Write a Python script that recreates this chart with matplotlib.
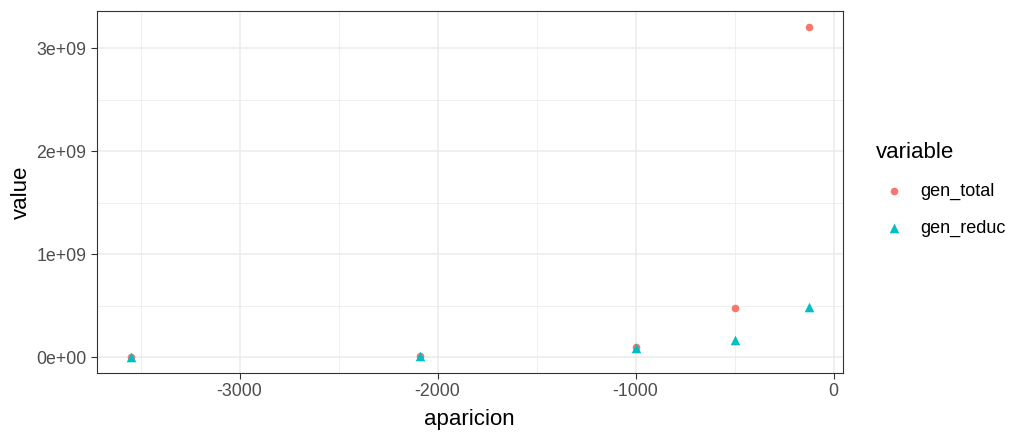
import numpy as np
import matplotlib.pyplot as plt
from matplotlib.ticker import MultipleLocator, FuncFormatter

aparicion = [-3550, -2090, -1000, -500, -125]
gen_total = [0.005e9, 0.01e9, 0.10e9, 0.48e9, 3.2e9]
gen_reduc = [0.005e9, 0.01e9, 0.084e9, 0.168e9, 0.485e9]
series = ['gen_total', 'gen_reduc']
colors = ['#F8766D', '#00BFC4']
markers = ['o', '^']

plt.rcParams['font.family'] = ['Liberation Sans', 'DejaVu Sans']

fig = plt.figure(figsize=(10.24, 4.44), dpi=100)
ax = fig.add_axes([96.7/1024, 1-373/444, (842.7-96.7)/1024, (373-11)/444])

for name, vals, c, m in zip(series, [gen_total, gen_reduc], colors, markers):
    ax.scatter(aparicion, vals, s=30 if m == 'o' else 48, color=c, marker=m,
               linewidths=0, label=name, zorder=3)

# ggplot-like expansion of 5%
allv = gen_total + gen_reduc
xr = max(aparicion) - min(aparicion)
yr = max(allv) - min(allv)
ax.set_xlim(min(aparicion) - 0.05*xr, max(aparicion) + 0.05*xr)
ax.set_ylim(min(allv) - 0.05*yr, max(allv) + 0.05*yr)

ax.xaxis.set_major_locator(MultipleLocator(1000))
ax.xaxis.set_minor_locator(MultipleLocator(500))
ax.yaxis.set_major_locator(MultipleLocator(1e9))
ax.yaxis.set_minor_locator(MultipleLocator(0.5e9))
ax.xaxis.set_major_formatter(FuncFormatter(lambda v, p: '%d' % v))
ax.yaxis.set_major_formatter(FuncFormatter(lambda v, p: '%de+09' % round(v/1e9) if v else '0e+00'))

ax.grid(which='major', color='#EBEBEB', linewidth=1.1, zorder=0)
ax.grid(which='minor', color='#EBEBEB', linewidth=0.55, zorder=0)
ax.set_axisbelow(True)
for sp in ax.spines.values():
    sp.set_color('#333333')
    sp.set_linewidth(0.8)
ax.tick_params(which='major', length=4.5, width=0.8, color='#333333',
               labelcolor='#4D4D4D', labelsize=12.8, pad=3)
ax.tick_params(which='minor', length=0)

ax.set_xlabel('aparicion', fontsize=16, color='black', labelpad=6)
ax.set_ylabel('value', fontsize=16, color='black', labelpad=3)

leg = fig.legend(loc='upper left', bbox_to_anchor=(869/1024, 1-135/444),
                 title='variable', fontsize=13, title_fontsize=16,
                 frameon=False, handletextpad=0.45, labelspacing=1.1,
                 borderaxespad=0, markerscale=1.0)
leg._legend_box.align = 'left'

fig.savefig('out.png', dpi=100)
